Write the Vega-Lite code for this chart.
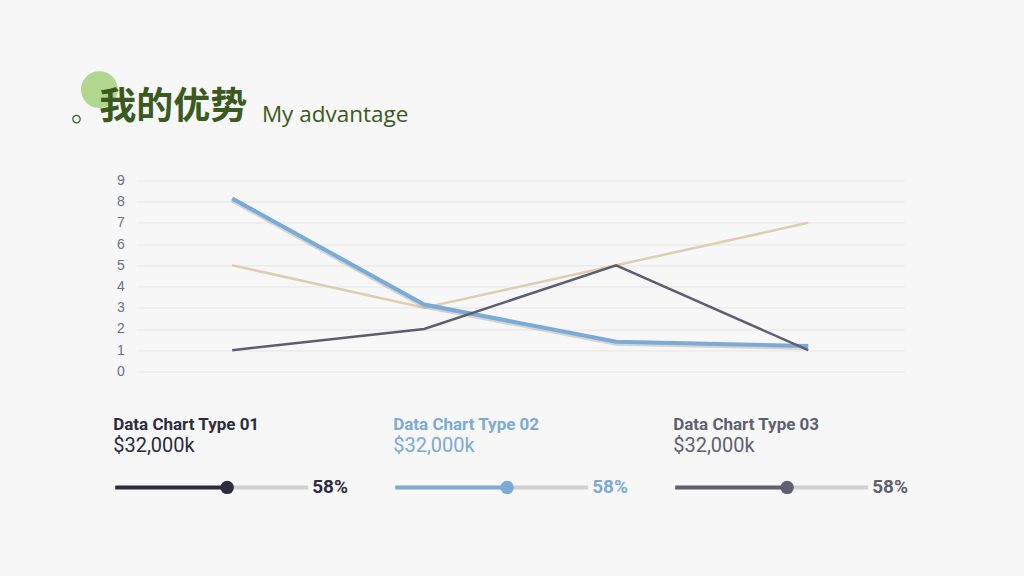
{
  "$schema": "https://vega.github.io/schema/vega-lite/v6.json",
  "background": "#f7f7f7",
  "padding": {"left": 70.2, "top": 70.4, "right": 130, "bottom": 100},
  "config": {
    "view": {"stroke": null},
    "font": "Roboto",
    "title": {
      "anchor": "start",
      "font": "Roboto",
      "fontSize": 17,
      "fontWeight": "bold",
      "subtitleFont": "Roboto",
      "subtitleFontSize": 20,
      "subtitleFontWeight": "normal",
      "subtitlePadding": 2,
      "offset": 20
    }
  },
  "bounds": "flush",
  "spacing": 106,
  "vconcat": [
    {
      "width": 768,
      "height": 191,
      "data": {
        "values": [
          {"category": "Category 1", "series": "Series 1", "value": 8.15},
          {"category": "Category 2", "series": "Series 1", "value": 3.15},
          {"category": "Category 3", "series": "Series 1", "value": 1.4},
          {"category": "Category 4", "series": "Series 1", "value": 1.2},
          {"category": "Category 1", "series": "Series 2", "value": 5},
          {"category": "Category 2", "series": "Series 2", "value": 3},
          {"category": "Category 3", "series": "Series 2", "value": 5},
          {"category": "Category 4", "series": "Series 2", "value": 7},
          {"category": "Category 1", "series": "Series 3", "value": 1},
          {"category": "Category 2", "series": "Series 3", "value": 2},
          {"category": "Category 3", "series": "Series 3", "value": 5},
          {"category": "Category 4", "series": "Series 3", "value": 1}
        ]
      },
      "layer": [
        {
          "data": {"values": [{"zh": "我的优势", "en": "My advantage"}]},
          "layer": [
            {
              "mark": {"type": "circle", "color": "#b1d68f", "size": 1360, "opacity": 1},
              "encoding": {"x": {"value": -36.8}, "y": {"value": -90.8}}
            },
            {
              "mark": {"type": "point", "shape": "circle", "filled": false, "color": "#3a5a20", "size": 55, "strokeWidth": 1.2, "opacity": 1},
              "encoding": {"x": {"value": -59.7}, "y": {"value": -61.3}}
            },
            {
              "mark": {"type": "text", "align": "left", "baseline": "alphabetic", "font": "Noto Sans CJK SC", "fontSize": 37, "fontWeight": "bold", "color": "#3a5a20"},
              "encoding": {"x": {"value": -37}, "y": {"value": -61.5}, "text": {"field": "zh"}}
            },
            {
              "mark": {"type": "text", "align": "left", "baseline": "alphabetic", "font": "Open Sans", "fontSize": 22.5, "color": "#3a5a20"},
              "encoding": {"x": {"value": 125.7}, "y": {"value": -58}, "text": {"field": "en"}}
            }
          ]
        },
        {
          "encoding": {
            "x": {"field": "category", "type": "ordinal", "axis": null, "scale": {"type": "point", "padding": 0.5}},
            "y": {
              "field": "value",
              "type": "quantitative",
              "scale": {"domain": [0, 9], "nice": false},
              "axis": {
                "values": [0, 1, 2, 3, 4, 5, 6, 7, 8, 9],
                "domain": false,
                "ticks": false,
                "grid": true,
                "gridColor": "#e4e4e4",
                "labelColor": "#6d6d8c",
                "labelFont": "Liberation Sans",
                "labelFontSize": 14,
                "labelPadding": 12,
                "title": null
              }
            }
          },
          "layer": [
            {
              "transform": [{"filter": {"field": "series", "equal": "Series 2"}}],
              "mark": {"type": "line", "color": "#dccdb3", "strokeWidth": 2.5}
            },
            {
              "transform": [{"filter": {"field": "series", "equal": "Series 1"}}],
              "mark": {"type": "line", "color": "#8f8f8f", "strokeWidth": 5, "opacity": 0.35, "yOffset": 1.5}
            },
            {
              "transform": [{"filter": {"field": "series", "equal": "Series 1"}}],
              "mark": {"type": "line", "color": "#7aaad6", "strokeWidth": 4}
            },
            {
              "transform": [{"filter": {"field": "series", "equal": "Series 3"}}],
              "mark": {"type": "line", "color": "#5d5d70", "strokeWidth": 2.5}
            }
          ]
        }
      ]
    },
    {
      "bounds": "flush",
      "spacing": 87,
      "hconcat": [
        {
          "width": 193,
          "height": 20,
          "title": {"text": "Data Chart Type 01", "subtitle": "$32,000k", "color": "#2c2c3c", "subtitleColor": "#2c2c3c"},
          "data": {"values": [{"type": "Data Chart Type 01", "start": 0, "share": 0.58, "full": 1}]},
          "encoding": {
            "x": {"field": "share", "type": "quantitative", "scale": {"domain": [0, 1]}, "axis": null}
          },
          "layer": [
            {
              "mark": {"type": "rule", "color": "#d0d0d0", "strokeWidth": 4, "xOffset": -21, "x2Offset": -21},
              "encoding": {"x2": {"field": "full"}}
            },
            {
              "mark": {"type": "rule", "color": "#2c2c3c", "strokeWidth": 4, "xOffset": -21, "x2Offset": -21},
              "encoding": {"x": {"field": "start", "type": "quantitative"}, "x2": {"field": "share"}}
            },
            {
              "mark": {"type": "circle", "color": "#2c2c3c", "size": 180, "opacity": 1, "xOffset": -21}
            },
            {
              "mark": {"type": "text", "align": "left", "baseline": "middle", "dx": -17, "fontSize": 19, "fontWeight": "bold", "color": "#2c2c3c"},
              "encoding": {"x": {"field": "full", "type": "quantitative"}, "text": {"field": "share", "type": "quantitative", "format": ".0%"}}
            }
          ]
        },
        {
          "width": 193,
          "height": 20,
          "title": {"text": "Data Chart Type 02", "subtitle": "$32,000k", "color": "#7aaad6", "subtitleColor": "#7aaad6"},
          "data": {"values": [{"type": "Data Chart Type 02", "start": 0, "share": 0.58, "full": 1}]},
          "encoding": {
            "x": {"field": "share", "type": "quantitative", "scale": {"domain": [0, 1]}, "axis": null}
          },
          "layer": [
            {
              "mark": {"type": "rule", "color": "#d0d0d0", "strokeWidth": 4, "xOffset": -21, "x2Offset": -21},
              "encoding": {"x2": {"field": "full"}}
            },
            {
              "mark": {"type": "rule", "color": "#7aaad6", "strokeWidth": 4, "xOffset": -21, "x2Offset": -21},
              "encoding": {"x": {"field": "start", "type": "quantitative"}, "x2": {"field": "share"}}
            },
            {
              "mark": {"type": "circle", "color": "#7aaad6", "size": 180, "opacity": 1, "xOffset": -21}
            },
            {
              "mark": {"type": "text", "align": "left", "baseline": "middle", "dx": -17, "fontSize": 19, "fontWeight": "bold", "color": "#7aaad6"},
              "encoding": {"x": {"field": "full", "type": "quantitative"}, "text": {"field": "share", "type": "quantitative", "format": ".0%"}}
            }
          ]
        },
        {
          "width": 193,
          "height": 20,
          "title": {"text": "Data Chart Type 03", "subtitle": "$32,000k", "color": "#5f5f70", "subtitleColor": "#5f5f70"},
          "data": {"values": [{"type": "Data Chart Type 03", "start": 0, "share": 0.58, "full": 1}]},
          "encoding": {
            "x": {"field": "share", "type": "quantitative", "scale": {"domain": [0, 1]}, "axis": null}
          },
          "layer": [
            {
              "mark": {"type": "rule", "color": "#d0d0d0", "strokeWidth": 4, "xOffset": -21, "x2Offset": -21},
              "encoding": {"x2": {"field": "full"}}
            },
            {
              "mark": {"type": "rule", "color": "#5f5f70", "strokeWidth": 4, "xOffset": -21, "x2Offset": -21},
              "encoding": {"x": {"field": "start", "type": "quantitative"}, "x2": {"field": "share"}}
            },
            {
              "mark": {"type": "circle", "color": "#5f5f70", "size": 180, "opacity": 1, "xOffset": -21}
            },
            {
              "mark": {"type": "text", "align": "left", "baseline": "middle", "dx": -17, "fontSize": 19, "fontWeight": "bold", "color": "#5f5f70"},
              "encoding": {"x": {"field": "full", "type": "quantitative"}, "text": {"field": "share", "type": "quantitative", "format": ".0%"}}
            }
          ]
        }
      ]
    }
  ]
}
